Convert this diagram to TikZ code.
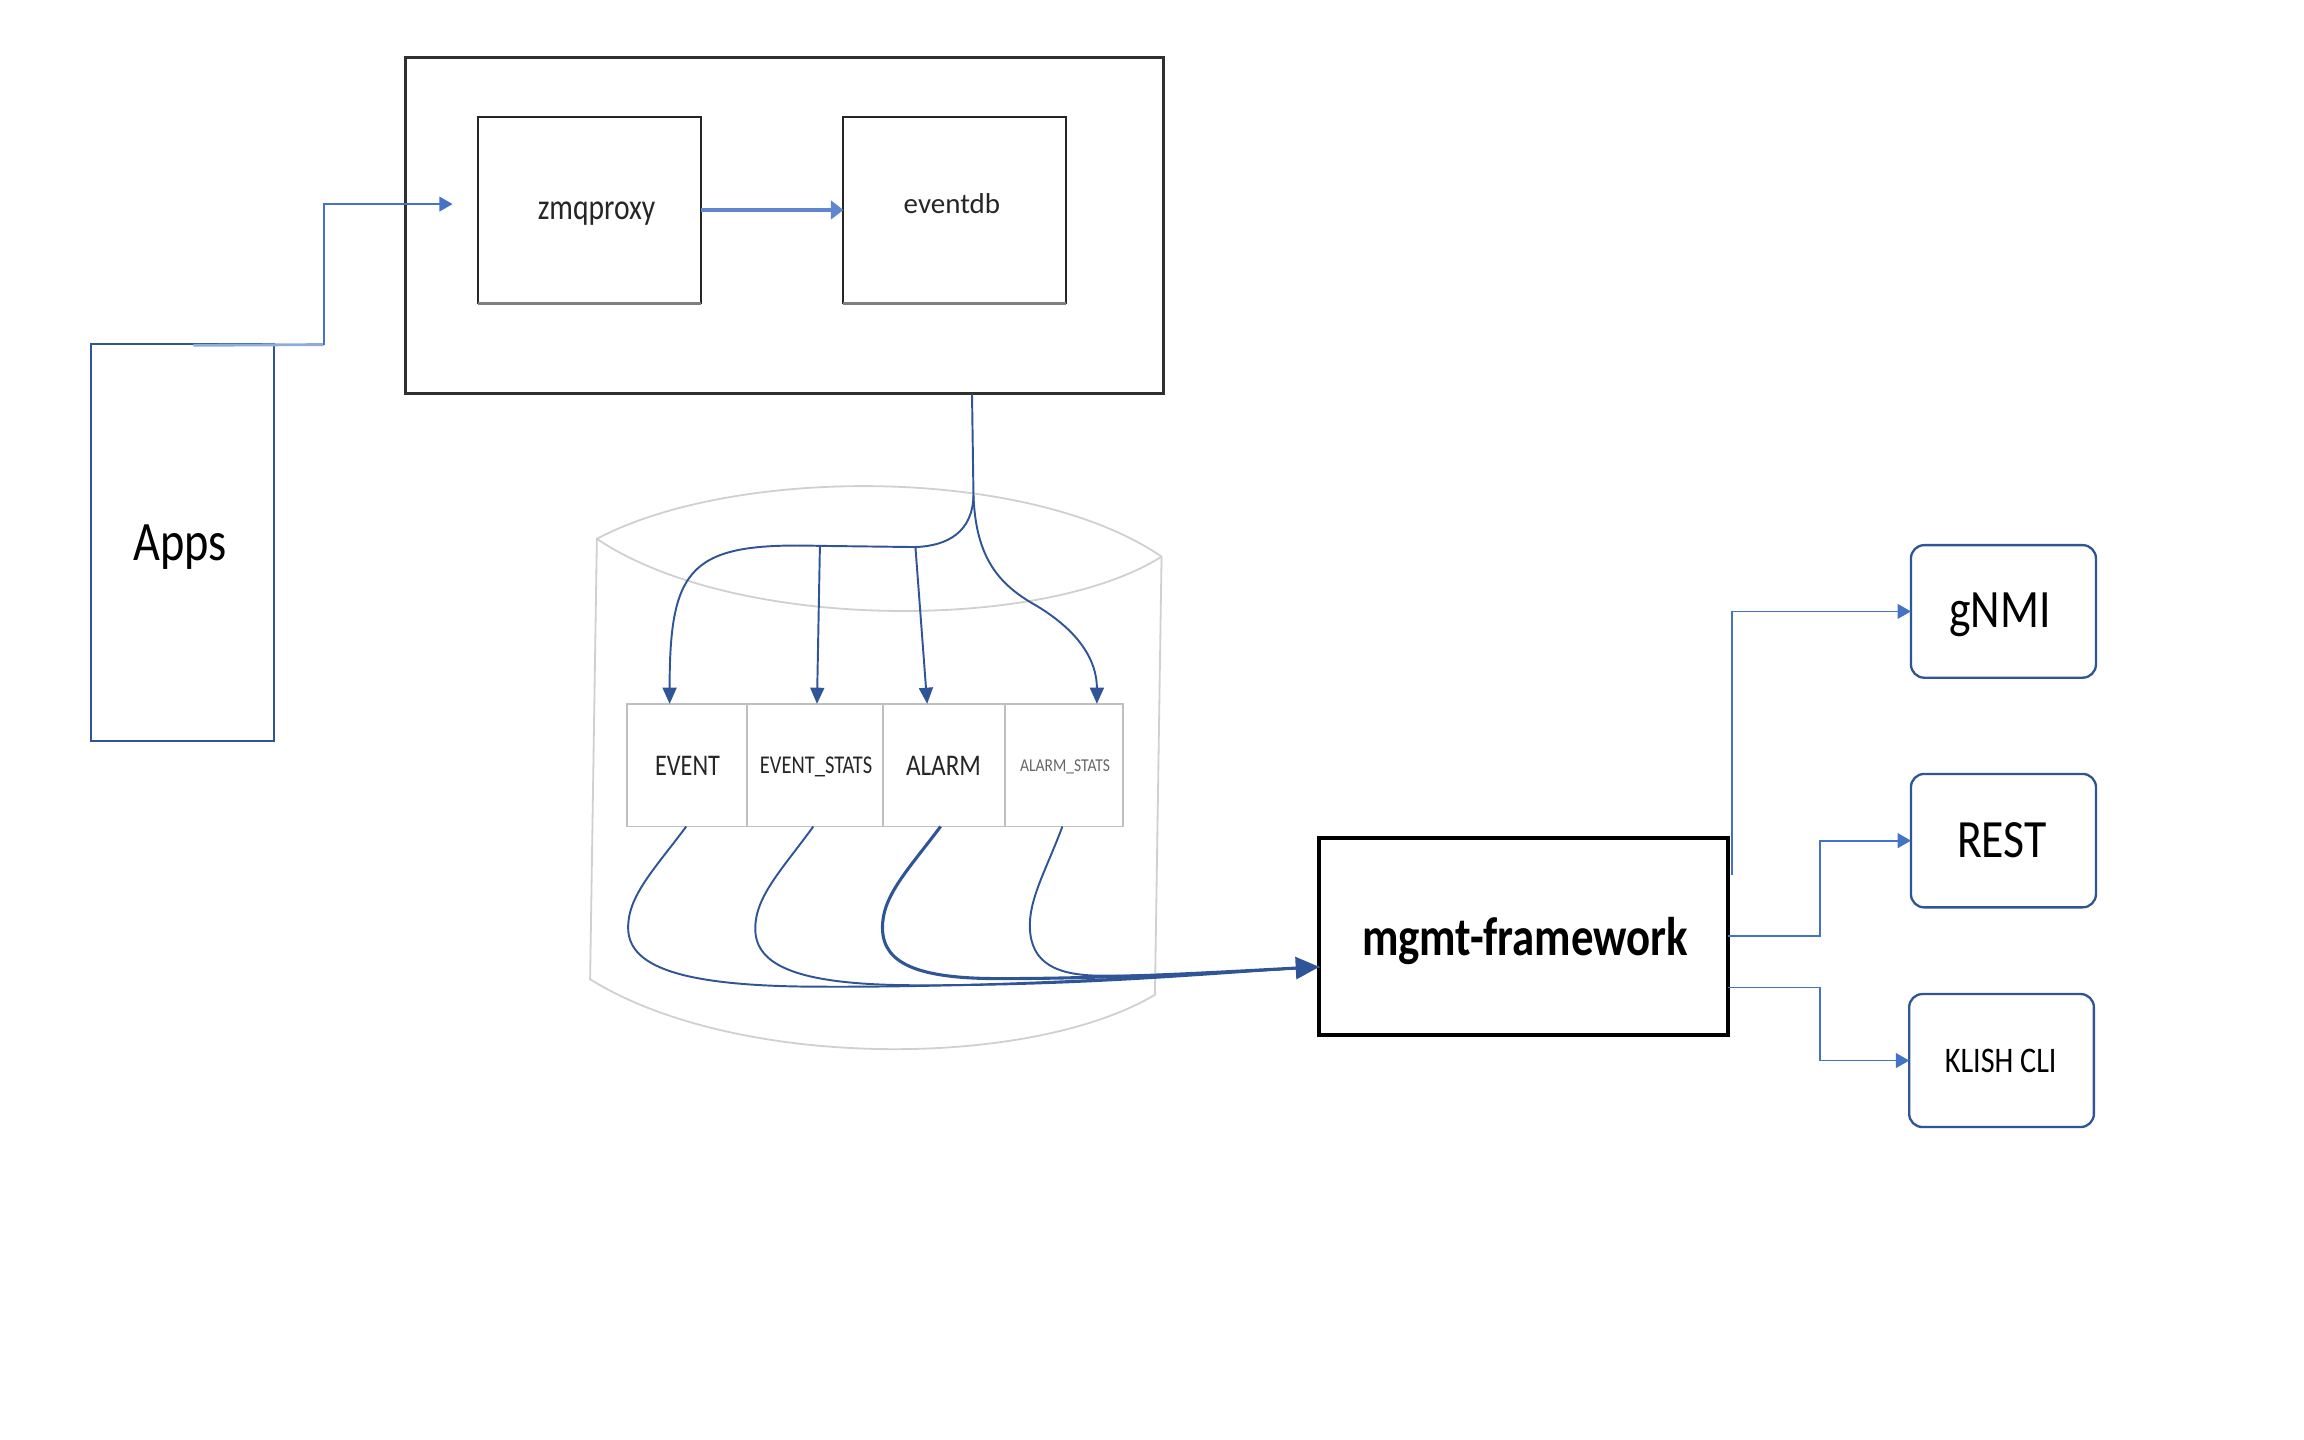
\documentclass[tikz,border=0pt]{standalone}
\usepackage{fontspec}
\setmainfont{Carlito}
\usepackage{graphicx}
\usetikzlibrary{arrows.meta,calc}
\newlength\ux \setlength\ux{0.02cm}
\definecolor{dkblue}{HTML}{2F5597}
\definecolor{mdblue}{HTML}{4472C4}
\definecolor{ltblue}{HTML}{8FAADC}
\definecolor{cylgray}{HTML}{D0D0D0}
\definecolor{cellgray}{HTML}{BFBFBF}
\definecolor{outgray}{HTML}{303030}
\definecolor{txtgray}{HTML}{262626}
\newcommand\fitlbl[3]{\resizebox{#1\ux}{#2\ux}{#3}}
\begin{document}
\begin{tikzpicture}[x=0.02cm,y=-0.02cm,
  box/.style={draw, inner sep=0pt, outer sep=0pt},
  lbl/.style={inner sep=0pt, outer sep=0pt, anchor=base},
  outerbox/.style={box, draw=outgray, line width=1.1pt},
  procbox/.style={box, draw=black!85, line width=0.75pt},
  appsbox/.style={box, draw=dkblue, line width=0.8pt},
  mgmtbox/.style={box, draw=black, line width=1.6pt},
  ifbox/.style={box, draw=dkblue, line width=0.9pt, rounded corners=0.18cm},
  cellbox/.style={box, draw=cellgray, line width=0.7pt},
  cyl/.style={draw=cylgray, line width=0.7pt},
  dconn/.style={draw=dkblue, line width=0.75pt},
  darr/.style={dconn, -{Triangle[length=0.22cm,width=0.19cm]}},
  mconn/.style={draw=mdblue, line width=0.7pt, -{Triangle[length=0.18cm,width=0.2cm]}},
  shadowline/.style={draw=black!50, line width=1.2pt},
]
\useasboundingbox (0,0) rectangle (1568,980);

% cylinder (database)
\coordinate (TL) at (406.2,366.7);
\coordinate (TR) at (790.5,378.8);
\coordinate (BL) at (401.6,666.4);
\coordinate (BR) at (786,677);
\draw[cyl] (TL) .. controls (500,317) and (700,317) .. (TR) -- (BR)
  .. controls (700,728) and (500,728) .. (BL) -- cycle;
\draw[cyl] (TL) .. controls (500,430) and (710,430) .. (TR);

% boxes
\node[outerbox, minimum width=516*\ux, minimum height=229*\ux] (outer) at (534,153.5) {};
\node[procbox, minimum width=151.6*\ux, minimum height=127*\ux] (zmq) at (401.2,142.9) {};
\node[procbox, minimum width=151.4*\ux, minimum height=127*\ux] (evdb) at (649.7,142.9) {};
\draw[shadowline] (zmq.south west) -- (zmq.south east);
\draw[shadowline] (evdb.south west) -- (evdb.south east);
\node[appsbox, minimum width=124.5*\ux, minimum height=270*\ux] (apps) at (124.25,369) {};
\node[mgmtbox, minimum width=277.9*\ux, minimum height=133.9*\ux] (mgmt) at (1036.75,637.25) {};
\node[ifbox, minimum width=125.9*\ux, minimum height=90.2*\ux] (gnmi) at (1363.45,416.1) {};
\node[ifbox, minimum width=125.9*\ux, minimum height=90.8*\ux] (rest) at (1363.45,572.1) {};
\node[ifbox, minimum width=125.7*\ux, minimum height=90.5*\ux] (klish) at (1362.15,721.75) {};
\node[cellbox, minimum width=81.7*\ux, minimum height=83.5*\ux] (cev) at (467.35,520.75) {};
\node[cellbox, minimum width=92.9*\ux, minimum height=83.5*\ux] (cevs) at (554.65,520.75) {};
\node[cellbox, minimum width=82.9*\ux, minimum height=83.5*\ux] (cal) at (642.55,520.75) {};
\node[cellbox, minimum width=80.5*\ux, minimum height=83.5*\ux] (cals) at (724.25,520.75) {};

% labels
\node[lbl] (tapps) at (122.5,381.6) {\fitlbl{63.6}{24.3}{Apps}};
\node[lbl] (tmgmt) at (1038,650) {\fitlbl{222}{26}{\bfseries mgmt-framework}};
\node[lbl, text=txtgray] (tzmq) at (406,149.3) {\fitlbl{80}{12}{zmqproxy}};
\node[lbl, text=txtgray] (tevdb) at (647.8,145.2) {\fitlbl{65.6}{13.6}{eventdb}};
\node[lbl] (tgnmi) at (1361,427) {\fitlbl{69}{23.6}{gNMI}};
\node[lbl] (trest) at (1362.4,583.4) {\fitlbl{61}{23.8}{REST}};
\node[lbl] (tklish) at (1361.6,729.8) {\fitlbl{76}{15.9}{KLISH CLI}};
\node[lbl, text=txtgray] (tev) at (467.9,528.1) {\fitlbl{44.2}{13.1}{EVENT}};
\node[lbl, text=txtgray] (tevs) at (555.4,526.3) {\fitlbl{76.5}{11.3}{EVENT\_STATS}};
\node[lbl, text=txtgray] (tal) at (642.1,528.1) {\fitlbl{51}{13.1}{ALARM}};
\node[lbl, text=black!60] (tals) at (724.8,525.2) {\fitlbl{61.2}{8}{ALARM\_STATS}};

% Apps -> zmqproxy
\coordinate (kink) at ($(apps.north)+(96,0.5)$);
\coordinate (zin) at ($(zmq.west)+(-17.4,-4)$);
\draw[draw=ltblue, line width=1.1pt] ($(apps.north)+(7.4,1)$) -- (kink);
\draw[mconn] (kink) |- (zin);

% zmqproxy -> eventdb
\draw[draw=mdblue!85!white, line width=1.3pt, -{Triangle[length=0.17cm,width=0.25cm]}] (zmq.east) -- (evdb.west);

% eventdb -> tables
\coordinate (obot) at ($(outer.south)+(127.5,0)$);
\coordinate (split) at (662.5,337);
\coordinate (j3) at (623,372.3);
\coordinate (j2) at (558,371.5);
\draw[dconn] (obot) -- (split);
\draw[darr] (split) .. controls (662,362) and (645,371.5) .. (j3) -- (j2)
  .. controls (470,369) and (455.7,385) .. ($(cev.north west)+(29.2,0)$);
\draw[darr] (j2) -- ($(cevs.north west)+(47.8,0)$);
\draw[darr] (j3) -- ($(cal.north west)+(29.9,0)$);
\draw[darr] (split) .. controls (664,380) and (680,398) .. (705,412)
  .. controls (735,430) and (746.5,450) .. ($(cals.north west)+(62.5,0)$);

% tables -> mgmt-framework
\coordinate (mgin) at ($(mgmt.west)+(0,20.75)$);
\draw[dconn] ($(cev.south west)+(40.5,0)$) .. controls (445,592) and (427,610) .. (427.5,632)
  .. controls (428,660) and (470,671.5) .. (560,671.5)
  .. controls (700,672) and (820,662) .. (mgin);
\draw[dconn] ($(cevs.south west)+(45.3,0)$) .. controls (532,592) and (514,610) .. (514,632)
  .. controls (514,658) and (545,670) .. (620,670.5)
  .. controls (740,671) and (830,662) .. (mgin);
\draw[dconn] ($(cals.south west)+(39,0)$) .. controls (712,592) and (700,612) .. (700.9,632)
  .. controls (702,655) and (718,664) .. (750,664)
  .. controls (800,664) and (850,661) .. (mgin);
\draw[dconn, line width=1.2pt, -{Triangle[length=0.32cm,width=0.3cm]}]
  ($(cal.south west)+(39,0)$) .. controls (618,592) and (600,610) .. (600.6,632)
  .. controls (601,656) and (625,666) .. (680,666)
  .. controls (760,666) and (840,661) .. (mgin);

% mgmt-framework -> interfaces
\coordinate (gstart) at ($(mgmt.north east)+(3,25.2)$);
\draw[mconn, line width=0.45pt] (gstart) |- (gnmi.west);
\draw[mconn] ($(mgmt.east)+(0,-0.25)$) -- ++(62.7,0) |- (rest.west);
\draw[mconn] ($(mgmt.east)+(0,34.75)$) -- ++(62.7,0) |- (klish.west);
\end{tikzpicture}
\end{document}
